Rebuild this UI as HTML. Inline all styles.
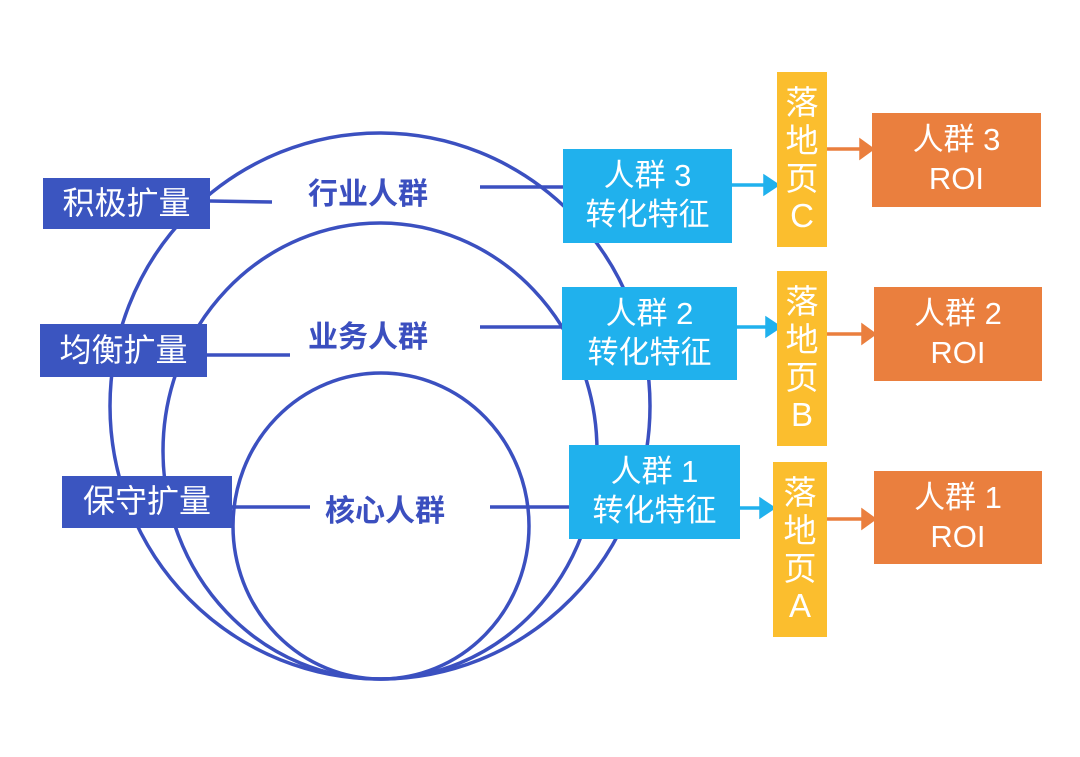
<!DOCTYPE html>
<html><head><meta charset="utf-8"><style>
html,body{margin:0;padding:0;background:#fff;}
body{width:1080px;height:757px;position:relative;overflow:hidden;font-family:"Liberation Sans","Noto Sans CJK SC",sans-serif;}
.b{position:absolute;color:#fff;display:flex;align-items:center;justify-content:center;text-align:center;line-height:1.3;}
.l{background:#3b55c0;font-size:32px;}
.c{background:#20b1ed;font-size:31px;line-height:1.25;}
.y{background:#fbbe2e;font-size:33px;line-height:1.14;}
.o{background:#ea7f3e;font-size:31px;line-height:1.25;}
.t{position:absolute;color:#3b4fbf;font-weight:bold;font-size:30px;}
</style></head><body>
<svg width="1080" height="757" style="position:absolute;left:0;top:0">
<g fill="none" stroke="#3b50c0" stroke-width="3.5">
<ellipse cx="380" cy="406" rx="270" ry="273"/>
<ellipse cx="380" cy="451" rx="217" ry="228"/>
<ellipse cx="381" cy="526" rx="148" ry="153"/>
<line x1="210" y1="201" x2="272" y2="202"/>
<line x1="207" y1="355" x2="290" y2="355"/>
<line x1="232" y1="507" x2="310" y2="507"/>
<line x1="480" y1="187" x2="564" y2="187"/>
<line x1="480" y1="327" x2="562" y2="327"/>
<line x1="490" y1="507" x2="570" y2="507"/>
</g>
<g stroke="#20b1ed" stroke-width="3.5" fill="#20b1ed">
<line x1="732" y1="185" x2="766" y2="185"/><polygon points="765,177 777,185 765,193"/>
<line x1="737" y1="327" x2="768" y2="327"/><polygon points="767,319 779,327 767,335"/>
<line x1="740" y1="508" x2="762" y2="508"/><polygon points="761,500 773,508 761,516"/>
</g>
<g stroke="#ea7f3e" stroke-width="3.5" fill="#ea7f3e">
<line x1="827" y1="149" x2="862" y2="149"/><polygon points="861,141 872,149 861,157"/>
<line x1="827" y1="334" x2="864" y2="334"/><polygon points="863,326 874,334 863,342"/>
<line x1="827" y1="519" x2="864" y2="519"/><polygon points="863,511 874,519 863,527"/>
</g>
</svg>
<div class="b l" style="left:43px;top:178px;width:167px;height:51px">积极扩量</div>
<div class="b l" style="left:40px;top:324px;width:167px;height:53px">均衡扩量</div>
<div class="b l" style="left:62px;top:476px;width:170px;height:52px">保守扩量</div>
<div class="t" style="left:308px;top:169px">行业人群</div>
<div class="t" style="left:308px;top:312px">业务人群</div>
<div class="t" style="left:325px;top:486px">核心人群</div>
<div class="b c" style="left:563px;top:149px;width:169px;height:94px">人群 3<br>转化特征</div>
<div class="b c" style="left:562px;top:287px;width:175px;height:93px">人群 2<br>转化特征</div>
<div class="b c" style="left:569px;top:445px;width:171px;height:94px">人群 1<br>转化特征</div>
<div class="b y" style="left:777px;top:72px;width:50px;height:175px">落<br>地<br>页<br>C</div>
<div class="b y" style="left:777px;top:271px;width:50px;height:175px">落<br>地<br>页<br>B</div>
<div class="b y" style="left:773px;top:462px;width:54px;height:175px">落<br>地<br>页<br>A</div>
<div class="b o" style="left:872px;top:113px;width:169px;height:94px">人群 3<br>ROI</div>
<div class="b o" style="left:874px;top:287px;width:168px;height:94px">人群 2<br>ROI</div>
<div class="b o" style="left:874px;top:471px;width:168px;height:93px">人群 1<br>ROI</div>
</body></html>
